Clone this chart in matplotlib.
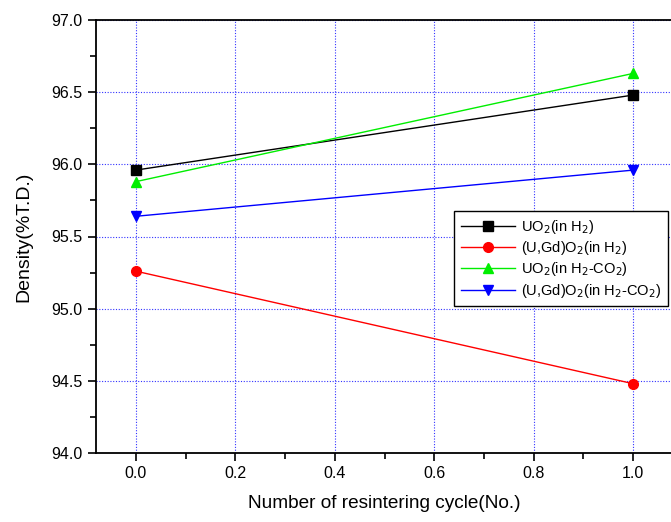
import matplotlib.pyplot as plt
from matplotlib.ticker import MultipleLocator

plt.rcParams['font.family'] = ['Liberation Sans', 'DejaVu Sans']

cycles = [0, 1]
uo2_h2 = [95.96, 96.48]
ugd_h2 = [95.26, 94.48]
uo2_h2co2 = [95.88, 96.63]
ugd_h2co2 = [95.64, 95.96]

fig = plt.figure(figsize=(6.71, 5.22), dpi=100)
ax = fig.add_axes([96/671, 69/522, 577/671, 433/522])

ax.plot(cycles, uo2_h2, color='black', marker='s', ms=6.5, lw=1, label=r'UO$_2$(in H$_2$)')
ax.plot(cycles, ugd_h2, color='red', marker='o', ms=7, lw=1, label=r'(U,Gd)O$_2$(in H$_2$)')
ax.plot(cycles, uo2_h2co2, color='#00ee00', marker='^', ms=7.5, lw=1, label=r'UO$_2$(in H$_2$-CO$_2$)')
ax.plot(cycles, ugd_h2co2, color='blue', marker='v', ms=7.5, lw=1, label=r'(U,Gd)O$_2$(in H$_2$-CO$_2$)')

ax.set_xlim(-0.08, 1.08)
ax.set_ylim(94.0, 97.0)
ax.xaxis.set_major_locator(MultipleLocator(0.2))
ax.xaxis.set_minor_locator(MultipleLocator(0.1))
ax.yaxis.set_major_locator(MultipleLocator(0.5))
ax.yaxis.set_minor_locator(MultipleLocator(0.25))
ax.xaxis.set_major_formatter(plt.FormatStrFormatter('%.1f'))
ax.yaxis.set_major_formatter(plt.FormatStrFormatter('%.1f'))
ax.tick_params(which='both', direction='out', width=1.2, labelsize=11.5)
ax.tick_params(which='major', length=6)
ax.tick_params(which='minor', length=4)
for s in ax.spines.values():
    s.set_linewidth(1.3)

ax.grid(True, which='major', color='#3333ff', linestyle=(0, (1, 1.5)), lw=0.8)

ax.set_xlabel('Number of resintering cycle(No.)', fontsize=13.7, labelpad=10)
ax.set_ylabel('Density(%T.D.)', fontsize=14, labelpad=14)

leg = ax.legend(loc='upper left', bbox_to_anchor=(0.613, 0.568), fontsize=10.5,
                frameon=True, fancybox=False, edgecolor='black', framealpha=1,
                handlelength=3.7, handletextpad=0.45, borderpad=0.45, labelspacing=0.22,
                borderaxespad=0.3)
leg.get_frame().set_linewidth(1.0)

fig.savefig('out.png', dpi=100)
